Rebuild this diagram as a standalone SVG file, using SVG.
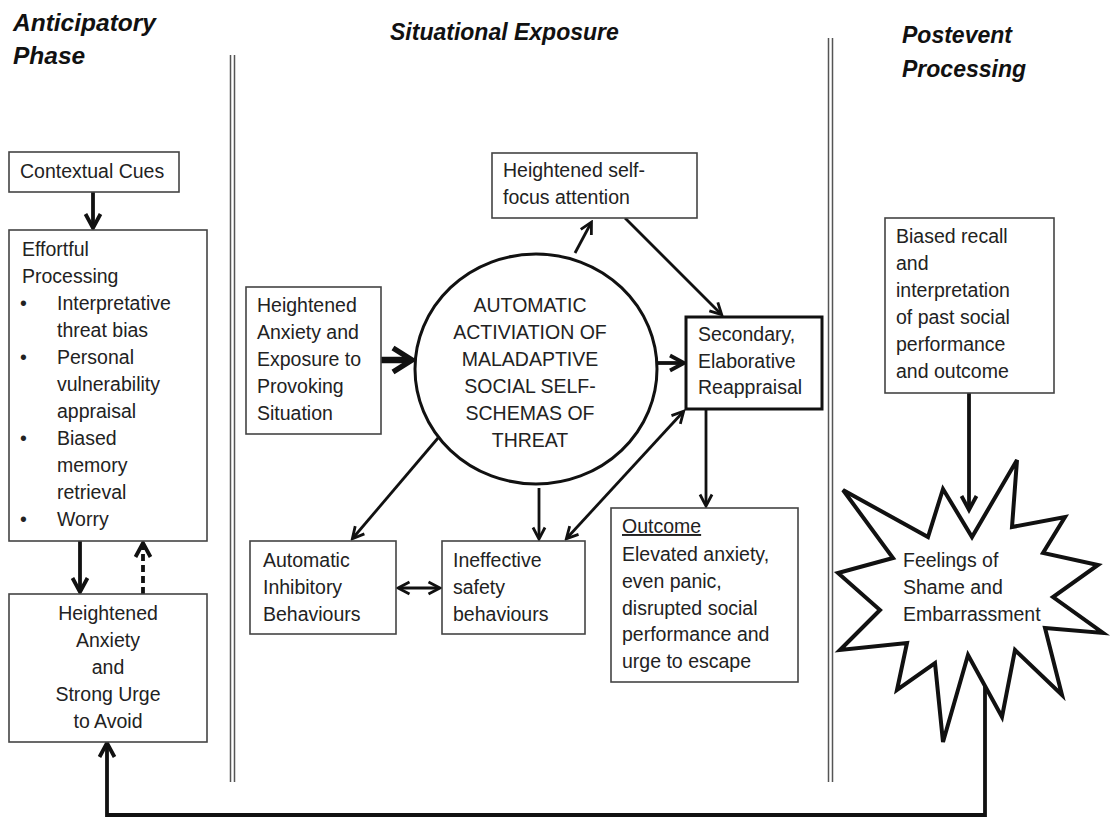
<svg xmlns="http://www.w3.org/2000/svg" width="1114" height="820" viewBox="0 0 1114 820">
<style>
.hdr{font-family:"Liberation Sans",Arial,sans-serif;font-size:23px;font-weight:bold;font-style:italic;fill:#111}
.big{font-size:24.5px}
.t{font-family:"Liberation Sans",Arial,sans-serif;font-size:19.5px;fill:#222}
.c{text-anchor:middle}
.box{fill:#fff;stroke:#444;stroke-width:1.6}
.sep{stroke:#555;stroke-width:1.5}
.thin{fill:none;stroke:#111;stroke-width:2.8}
.thick{fill:none;stroke:#111;stroke-width:3.8}
</style>
<defs>
<marker id="ah" markerUnits="userSpaceOnUse" viewBox="0 0 16 16" markerWidth="16" markerHeight="16" refX="12.5" refY="8" orient="auto-start-reverse">
<path d="M2,2 L13.5,8 L2,14" fill="none" stroke="#111" stroke-width="2.8"/>
</marker>
<marker id="ahT" markerUnits="userSpaceOnUse" viewBox="0 0 20 20" markerWidth="20" markerHeight="20" refX="15" refY="10" orient="auto-start-reverse">
<path d="M2,2.5 L16,10 L2,17.5" fill="none" stroke="#111" stroke-width="3.8"/>
</marker>
<marker id="ahB" markerUnits="userSpaceOnUse" viewBox="0 0 30 30" markerWidth="30" markerHeight="30" refX="21" refY="15" orient="auto">
<path d="M3,3 L22,15 L3,27" fill="none" stroke="#111" stroke-width="5.5"/>
</marker>
</defs>
<rect width="1114" height="820" fill="#fff"/>

<g id="headers">
<text class="hdr big" x="13" y="31">Anticipatory</text>
<text class="hdr big" x="13" y="64">Phase</text>
<text class="hdr" x="390" y="40">Situational Exposure</text>
<text class="hdr" x="902" y="43">Postevent</text>
<text class="hdr" x="902" y="77">Processing</text>
</g>

<g id="separators">
<line class="sep" x1="230.5" y1="55" x2="230.5" y2="782"/>
<line class="sep" x1="234.5" y1="55" x2="234.5" y2="782"/>
<line class="sep" x1="828.5" y1="38" x2="828.5" y2="782"/>
<line class="sep" x1="832.5" y1="38" x2="832.5" y2="782"/>
</g>

<g id="connectors">
<path class="thick" d="M93,192 L93,227" marker-end="url(#ahT)"/>
<path class="thick" d="M80,541 L80,591" marker-end="url(#ahT)"/>
<path class="thick" d="M143,594 L143,544" stroke-dasharray="7 4" marker-end="url(#ahT)"/>
<path class="thick" d="M985,686 L985,815 L107,815 L107,744" marker-end="url(#ahT)"/>
<path class="thick" d="M969,393 L969,509" marker-end="url(#ahT)"/>
<path fill="none" stroke="#111" stroke-width="6.5" d="M381,360 L411,360" marker-end="url(#ahB)"/>
<path class="thick" d="M657,363 L683,363" marker-end="url(#ahT)"/>
<path class="thin" d="M575,253 L591,223" marker-end="url(#ah)"/>
<path class="thin" d="M625,218 L721,314" marker-end="url(#ah)"/>
<path class="thin" d="M438,438 L353,538" marker-end="url(#ah)"/>
<path class="thin" d="M539,488 L539,538" marker-end="url(#ah)"/>
<path class="thin" d="M567,538 L683,412" marker-start="url(#ah)" marker-end="url(#ah)"/>
<path class="thin" d="M706,409 L706,505" marker-end="url(#ah)"/>
<path class="thin" d="M399,588 L439,588" marker-start="url(#ah)" marker-end="url(#ah)"/>
</g>

<g id="contextual-cues">
<rect class="box" x="9" y="152" width="170" height="40"/>
<text class="t" x="20" y="178">Contextual Cues</text>
</g>

<g id="effortful-processing">
<rect class="box" x="9" y="230" width="198" height="311"/>
<text class="t" x="22" y="256">Effortful</text>
<text class="t" x="22" y="283">Processing</text>
<text class="t" x="20" y="310">•</text>
<text class="t" x="57" y="310">Interpretative</text>
<text class="t" x="57" y="337">threat bias</text>
<text class="t" x="20" y="364">•</text>
<text class="t" x="57" y="364">Personal</text>
<text class="t" x="57" y="391">vulnerability</text>
<text class="t" x="57" y="418">appraisal</text>
<text class="t" x="20" y="445">•</text>
<text class="t" x="57" y="445">Biased</text>
<text class="t" x="57" y="472">memory</text>
<text class="t" x="57" y="499">retrieval</text>
<text class="t" x="20" y="526">•</text>
<text class="t" x="57" y="526">Worry</text>
</g>

<g id="heightened-anxiety-avoid">
<rect class="box" x="9" y="594" width="198" height="148"/>
<text class="t c" x="108" y="620">Heightened</text>
<text class="t c" x="108" y="647">Anxiety</text>
<text class="t c" x="108" y="674">and</text>
<text class="t c" x="108" y="701">Strong Urge</text>
<text class="t c" x="108" y="728">to Avoid</text>
</g>

<g id="heightened-exposure">
<rect class="box" x="246" y="287" width="135" height="147"/>
<text class="t" x="257" y="312">Heightened</text>
<text class="t" x="257" y="339">Anxiety and</text>
<text class="t" x="257" y="366">Exposure to</text>
<text class="t" x="257" y="393">Provoking</text>
<text class="t" x="257" y="420">Situation</text>
</g>

<g id="schemas-circle">
<ellipse cx="536" cy="369" rx="121" ry="115" fill="#fff" stroke="#111" stroke-width="3"/>
<text class="t c" x="530" y="312">AUTOMATIC</text>
<text class="t c" x="530" y="339">ACTIVIATION OF</text>
<text class="t c" x="530" y="366">MALADAPTIVE</text>
<text class="t c" x="530" y="393">SOCIAL SELF-</text>
<text class="t c" x="530" y="420">SCHEMAS OF</text>
<text class="t c" x="530" y="447">THREAT</text>
</g>

<g id="self-focus">
<rect class="box" x="492" y="153" width="205" height="65"/>
<text class="t" x="503" y="177">Heightened self-</text>
<text class="t" x="503" y="204">focus attention</text>
</g>

<g id="secondary-reappraisal">
<rect x="686" y="317" width="136" height="92" fill="#fff" stroke="#111" stroke-width="3"/>
<text class="t" x="698" y="341">Secondary,</text>
<text class="t" x="698" y="368">Elaborative</text>
<text class="t" x="698" y="394">Reappraisal</text>
</g>

<g id="automatic-inhibitory">
<rect class="box" x="250" y="541" width="146" height="93"/>
<text class="t" x="263" y="567">Automatic</text>
<text class="t" x="263" y="594">Inhibitory</text>
<text class="t" x="263" y="621">Behaviours</text>
</g>

<g id="ineffective-safety">
<rect class="box" x="442" y="541" width="143" height="93"/>
<text class="t" x="453" y="567">Ineffective</text>
<text class="t" x="453" y="594">safety</text>
<text class="t" x="453" y="621">behaviours</text>
</g>

<g id="outcome">
<rect class="box" x="611" y="508" width="187" height="174"/>
<text class="t" x="622" y="533" text-decoration="underline">Outcome</text>
<text class="t" x="622" y="561">Elevated anxiety,</text>
<text class="t" x="622" y="588">even panic,</text>
<text class="t" x="622" y="615">disrupted social</text>
<text class="t" x="622" y="641">performance and</text>
<text class="t" x="622" y="668">urge to escape</text>
</g>

<g id="biased-recall">
<rect class="box" x="885" y="218" width="169" height="175"/>
<text class="t" x="896" y="243">Biased recall</text>
<text class="t" x="896" y="270">and</text>
<text class="t" x="896" y="297">interpretation</text>
<text class="t" x="896" y="324">of past social</text>
<text class="t" x="896" y="351">performance</text>
<text class="t" x="896" y="378">and outcome</text>
</g>

<g id="shame-star">
<polygon points="1017,460 1012,527 1065,517 1043,553 1098,565 1053,597 1103,633 1045,628 1062,695 1015,650 1002,717 968,655 943,742 935,663 897,690 907,643 840,650 880,610 838,573 893,558 843,490 928,537 943,489 972,537" fill="#fff" stroke="#111" stroke-width="4" stroke-linejoin="miter"/>
<text class="t" x="903" y="567">Feelings of</text>
<text class="t" x="903" y="594">Shame and</text>
<text class="t" x="903" y="621">Embarrassment</text>
</g>
</svg>
